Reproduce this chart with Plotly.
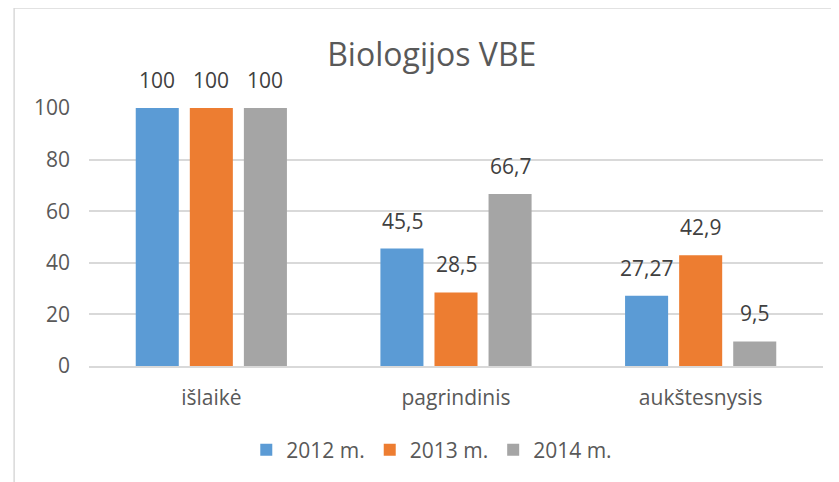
import plotly.graph_objects as go

# data
categories = ["išlaikė", "pagrindinis", "aukštesnysis"]
series_names = ["2012 m.", "2013 m.", "2014 m."]
values_2012 = [100, 45.5, 27.27]
values_2013 = [100, 28.5, 42.9]
values_2014 = [100, 66.7, 9.5]
y_ticks = [0, 20, 40, 60, 80, 100]

colors = ["#5B9BD5", "#ED7D31", "#A5A5A5"]
FONT = "Open Sans"


def fmt(v):
    # Lithuanian decimal comma
    return f"{v:g}".replace(".", ",")


fig = go.Figure()
all_values = [values_2012, values_2013, values_2014]
for name, vals, color in zip(series_names, all_values, colors):
    fig.add_trace(
        go.Bar(
            x=categories,
            y=vals,
            name=name,
            marker={"color": color, "line": {"width": 0}},
        )
    )

# data labels sit a bit higher than plotly's "outside" text, so use annotations
slot_px = 54
for i, vals in enumerate(all_values):
    for cat, v in zip(categories, vals):
        fig.add_annotation(
            x=cat,
            y=v,
            text=fmt(v),
            showarrow=False,
            xshift=(i - 1) * slot_px,
            yshift=12,
            yanchor="bottom",
            font={"family": FONT, "size": 21, "color": "#404040"},
        )

# chart frame
fig.add_shape(
    type="rect",
    xref="paper",
    yref="paper",
    x0=-0.102,
    x1=1.5,
    y0=-1.0,
    y1=1.388,
    line={"color": "#D9D9D9", "width": 1.5},
    fillcolor="rgba(0,0,0,0)",
    layer="below",
)

# page body adds an 8px offset, so the figure is 8px smaller each way
fig.update_layout(
    width=831,
    height=474,
    margin={"l": 81, "r": 16, "t": 100, "b": 116},
    paper_bgcolor="white",
    plot_bgcolor="white",
    barmode="group",
    bargap=0.337,
    bargroupgap=0.204,
    font={"family": FONT, "size": 21, "color": "#595959"},
    title={
        "text": "Biologijos VBE",
        "xref": "paper",
        "x": 0.467,
        "xanchor": "center",
        "yref": "container",
        "y": 1 - 47 / 474,
        "yanchor": "middle",
        "font": {"family": FONT, "size": 32, "color": "#595959"},
    },
    legend={
        "orientation": "h",
        "x": 0.467,
        "xanchor": "center",
        "y": -0.326,
        "yanchor": "middle",
        "font": {"family": FONT, "size": 21, "color": "#595959"},
        "itemclick": False,
    },
    showlegend=True,
)

fig.update_xaxes(
    showgrid=False,
    showline=True,
    linecolor="#D9D9D9",
    linewidth=1.5,
    ticks="",
    ticklabelstandoff=12,
    tickfont={"family": FONT, "size": 21, "color": "#595959"},
)
fig.update_yaxes(
    range=[0, 100],
    tickvals=y_ticks,
    showgrid=True,
    gridcolor="#D9D9D9",
    gridwidth=1.5,
    zeroline=False,
    showline=False,
    ticks="",
    ticklabelstandoff=18,
    tickfont={"family": FONT, "size": 21, "color": "#595959"},
)

fig.write_html("out.html")
